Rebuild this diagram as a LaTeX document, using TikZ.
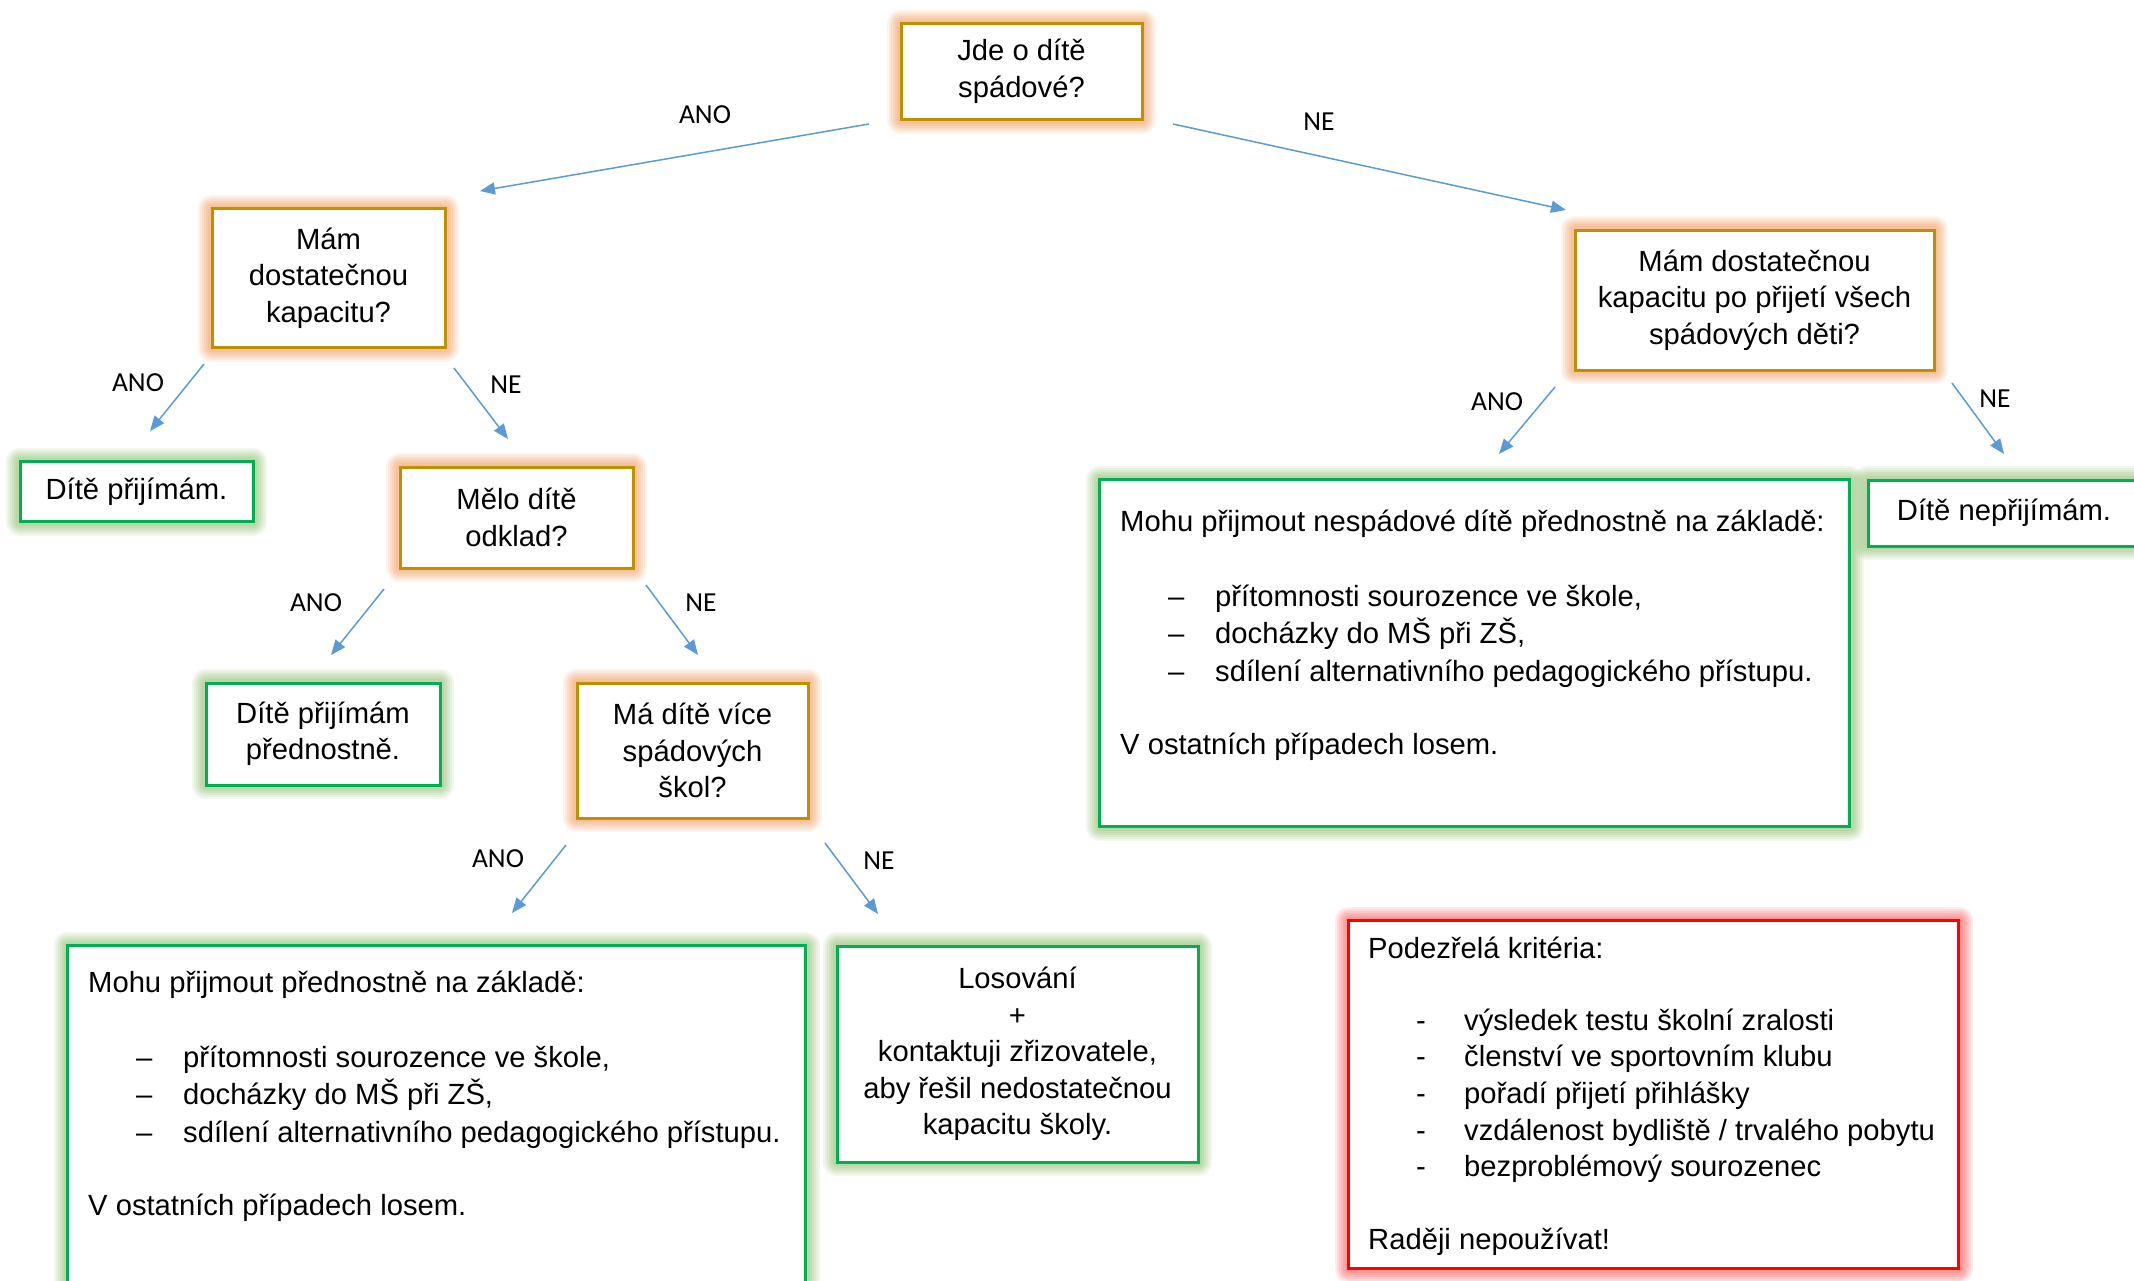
\documentclass[tikz,border=0pt]{standalone}
\usepackage{fontspec}
\setmainfont{Liberation Sans}
\newfontfamily\labfont{Carlito}
\usetikzlibrary{arrows.meta}
\definecolor{obord}{RGB}{191,144,0}
\definecolor{oglow}{RGB}{240,125,45}
\definecolor{gbord}{RGB}{0,176,80}
\definecolor{gglow}{RGB}{112,173,71}
\definecolor{rbord}{RGB}{255,0,0}
\definecolor{rglow}{RGB}{255,40,40}
\definecolor{arrblue}{RGB}{91,155,213}
\newcommand\dashitem[1]{\hspace*{48pt}\makebox[47pt][l]{–}#1}
\newcommand\hypitem[1]{\hspace*{48pt}\makebox[48pt][l]{-}#1}
\begin{document}
\begin{tikzpicture}[x=1pt,y=-1pt,
 glow/.style={preaction={draw=#1,line width=28pt,opacity=0.09,line join=round},
              preaction={draw=#1,line width=24pt,opacity=0.09,line join=round},
              preaction={draw=#1,line width=20pt,opacity=0.1,line join=round},
              preaction={draw=#1,line width=16pt,opacity=0.1,line join=round},
              preaction={draw=#1,line width=12pt,opacity=0.1,line join=round},
              preaction={draw=#1,line width=8pt,opacity=0.1,line join=round}},
 box/.style={fill=white,line width=3pt,inner sep=0pt,align=center,font=\fontsize{29.2}{36.5}\selectfont},
 obox/.style={box,draw=obord,glow=oglow},
 gbox/.style={box,draw=gbord,glow=gglow},
 rbox/.style={box,draw=rbord,glow=rglow},
 body/.style={inner sep=0pt,anchor=north west,align=left,font=\fontsize{29.2}{37.5}\selectfont},
 redbody/.style={body,font=\fontsize{29.2}{36.6}\selectfont},
 lab/.style={inner sep=0pt,font=\labfont\fontsize{27.5}{33}\selectfont},
 arr/.style={draw=arrblue,line width=1.5pt,-{Triangle[length=15pt,width=12pt]}}]
\clip (0,0) rectangle (2134,1280);
\fill[white] (0,0) rectangle (2134,1280);

% decision boxes
\node[obox,minimum width=241pt,minimum height=96pt] (q1) at (1021.5,71.5) {Jde o dítě\\spádové?};
\node[obox,minimum width=233pt,minimum height=139pt] (q2) at (328.5,278) {Mám\\dostatečnou\\kapacitu?};
\node[obox,minimum width=359pt,minimum height=140pt] (q3) at (1754.5,300) {Mám dostatečnou\\kapacitu po přijetí všech\\spádových děti?};
\node[obox,minimum width=233pt,minimum height=101pt] (q4) at (516.5,517.5) {Mělo dítě\\odklad?};
\node[obox,minimum width=231pt,minimum height=135pt] (q5) at (692.5,750.5) {Má dítě více\\spádových\\škol?};

% result boxes
\node[gbox,minimum width=233pt,minimum height=60pt] (r1) at (136.5,491.5) {Dítě přijímám.};
\node[gbox,minimum width=234pt,minimum height=102pt] (r2) at (323,734) {Dítě přijímám\\přednostně.};
\node[gbox,minimum width=361pt,minimum height=216pt] (r3) at (1017.5,1054) {Losování\\+\\kontaktuji zřizovatele,\\aby řešil nedostatečnou\\kapacitu školy.};
\node[gbox,minimum width=272pt,minimum height=66pt] (r4) at (2004,513) {Dítě nepřijímám.};
\node[gbox,minimum width=738pt,minimum height=380pt,anchor=north west] (r5) at (66,944) {};
\node[gbox,minimum width=750pt,minimum height=347pt,anchor=north west] (r6) at (1098,478) {};
\node[rbox,minimum width=610pt,minimum height=348pt,anchor=north west] (w) at (1347,919) {};

\node[body] (r5t) at (88,971) {Mohu přijmout přednostně na základě:\\[37pt]
\dashitem{přítomnosti sourozence ve škole,}\\
\dashitem{docházky do MŠ při ZŠ,}\\
\dashitem{sdílení alternativního pedagogického přístupu.}\\[36pt]
V ostatních případech losem.};
\node[body] (r6t) at (1120,510) {Mohu přijmout nespádové dítě přednostně na základě:\\[37pt]
\dashitem{přítomnosti sourozence ve škole,}\\
\dashitem{docházky do MŠ při ZŠ,}\\
\dashitem{sdílení alternativního pedagogického přístupu.}\\[36pt]
V ostatních případech losem.};
\node[redbody] (wt) at (1368,937) {Podezřelá kritéria:\\[35pt]
\hypitem{výsledek testu školní zralosti}\\
\hypitem{členství ve sportovním klubu}\\
\hypitem{pořadí přijetí přihlášky}\\
\hypitem{vzdálenost bydliště / trvalého pobytu}\\
\hypitem{bezproblémový sourozenec}\\[36pt]
Raději nepoužívat!};

% connectors
\coordinate (s1) at (869,124);  \coordinate (e1) at (480,191);
\coordinate (s2) at (1173,124); \coordinate (e2) at (1566,210);
\coordinate (s3) at (204,364);  \coordinate (e3) at (150,431);
\coordinate (s4) at (454,368);  \coordinate (e4) at (508,439);
\coordinate (s5) at (384,589);  \coordinate (e5) at (331,655);
\coordinate (s6) at (646,585);  \coordinate (e6) at (698,655);
\coordinate (s7) at (566,845);  \coordinate (e7) at (512,913);
\coordinate (s8) at (825,843);  \coordinate (e8) at (878,914);
\coordinate (s9) at (1555,387); \coordinate (e9) at (1499,454);
\coordinate (s10) at (1952,383); \coordinate (e10) at (2004,454);
\foreach \i in {1,...,10} {\draw[arr] (s\i) -- (e\i);}

\node[lab] (l1) at (705,115) {ANO};
\node[lab] (l2) at (1319,122) {NE};
\node[lab] (l3) at (138,383) {ANO};
\node[lab] (l4) at (506,385) {NE};
\node[lab] (l5) at (316,603) {ANO};
\node[lab] (l6) at (701,603) {NE};
\node[lab] (l7) at (498,859) {ANO};
\node[lab] (l8) at (879,861) {NE};
\node[lab] (l9) at (1497,402) {ANO};
\node[lab] (l10) at (1995,399) {NE};
\end{tikzpicture}
\end{document}
